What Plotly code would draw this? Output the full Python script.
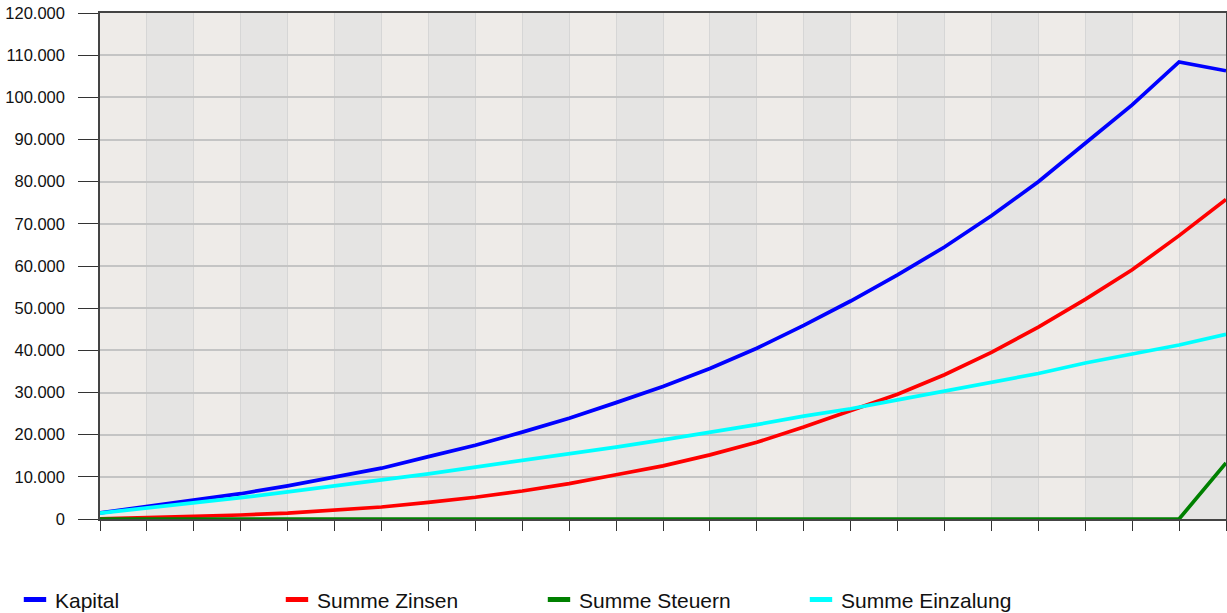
import plotly.graph_objects as go

periods = list(range(25))
kapital = [1450, 2900, 4350, 6000, 7850, 9900, 12050, 14800, 17500, 20600, 23900, 27600, 31400,
           35700, 40500, 45900, 51700, 57900, 64500, 71900, 80000, 89100, 98200, 108400, 106300]
zinsen = [50, 300, 600, 950, 1400, 2050, 2850, 3950, 5150, 6650, 8400, 10500, 12600,
          15200, 18200, 21800, 25700, 29600, 34200, 39500, 45500, 52100, 59100, 67200, 75800]
steuern = [0] * 24 + [13300]
einzahlung = [1400, 2600, 3750, 5050, 6450, 7850, 9200, 10700, 12300, 13850, 15400, 17050, 18750,
              20550, 22400, 24400, 26150, 28250, 30350, 32400, 34500, 37000, 39100, 41250, 43800]

series = [
    ("Kapital", kapital, "#0000FF"),
    ("Summe Zinsen", zinsen, "#FF0000"),
    ("Summe Steuern", steuern, "#008000"),
    ("Summe Einzalung", einzahlung, "#00FFFF"),
]

FONT = "Liberation Sans, Arial, sans-serif"

fig = go.Figure()
for name, vals, col in series:
    fig.add_trace(go.Scatter(x=periods, y=vals, mode="lines", name=name,
                             line=dict(color=col, width=3.7), showlegend=False,
                             hoverinfo="skip", cliponaxis=False))
for name, vals, col in series:
    fig.add_trace(go.Scatter(x=[None], y=[None], mode="markers", name=name,
                             marker=dict(symbol="line-ew", size=16,
                                         line=dict(color=col, width=6)),
                             showlegend=True))

# alternating background bands
for i in range(24):
    col = "rgb(238,235,232)" if i % 2 == 0 else "rgb(229,228,227)"
    fig.add_shape(type="rect", xref="x", yref="y", x0=i, x1=i + 1, y0=0, y1=120000,
                  fillcolor=col, line=dict(width=0), layer="below")

fig.update_layout(
    width=1227, height=613,
    margin=dict(l=100, r=1, t=13, b=94, autoexpand=False),
    paper_bgcolor="white", plot_bgcolor="rgb(238,235,232)",
    separators=",.",
    font=dict(family=FONT, size=16.5, color="#111111"),
    legend=dict(orientation="h", x=-0.0755, xanchor="left", y=-0.16, yanchor="middle",
                entrywidth=217, entrywidthmode="pixels",
                font=dict(family=FONT, size=21, color="#111111"),
                bgcolor="rgba(0,0,0,0)", itemsizing="trace"),
)
fig.update_xaxes(range=[0, 24], dtick=1, tick0=0, showticklabels=False,
                 showgrid=True, gridcolor="rgb(214,214,214)", gridwidth=1,
                 ticks="outside", ticklen=10, tickcolor="#333333",
                 showline=True, linecolor="#444444", linewidth=1.5, mirror=True,
                 zeroline=False, fixedrange=True)
fig.update_yaxes(range=[0, 120000], dtick=10000, tick0=0, tickformat=",d",
                 showgrid=True, gridcolor="rgb(196,196,196)", gridwidth=1.5,
                 ticks="outside", ticklen=20, tickcolor="#333333",
                 ticklabelstandoff=10,
                 showline=True, linecolor="#444444", linewidth=1.5, mirror=True,
                 zeroline=False, fixedrange=True)

fig.write_html("out.html", config={"displayModeBar": False},
               post_script="document.body.style.margin='0';document.body.style.overflow='hidden';")
